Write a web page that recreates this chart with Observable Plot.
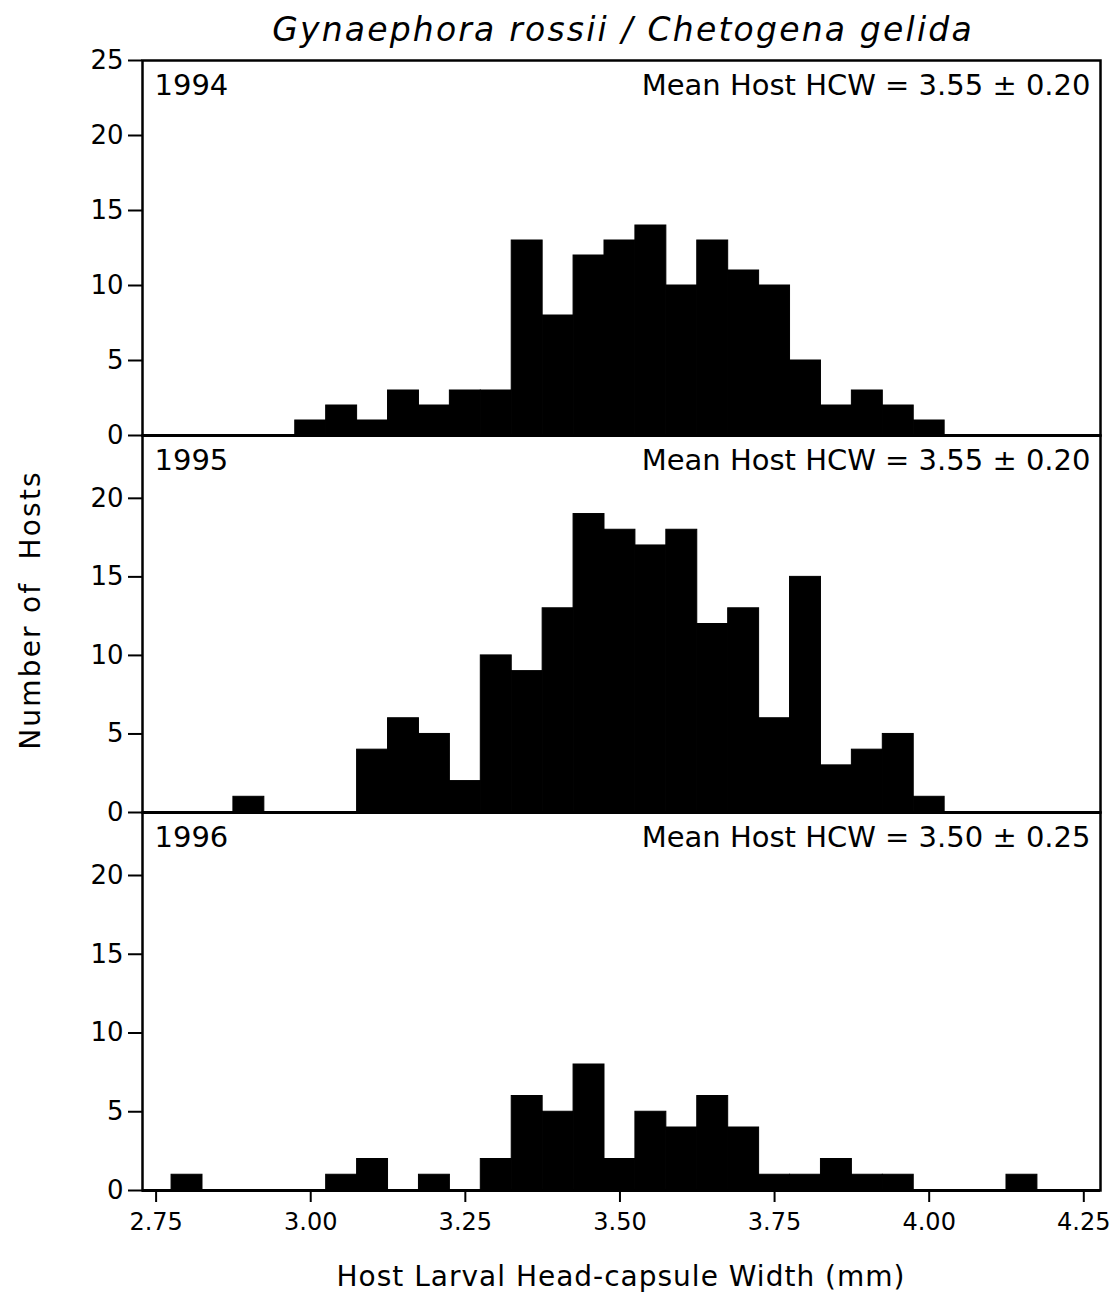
<!DOCTYPE html>
<html>
<head>
<meta charset="utf-8">
<script src="https://cdn.jsdelivr.net/npm/d3@7"></script>
<script src="https://cdn.jsdelivr.net/npm/@observablehq/plot@0.6"></script>
<style>
  html, body { margin: 0; padding: 0; background: #fff; }
  #chart { position: relative; width: 1112px; height: 1306px; background: #fff; font-family: "DejaVu Sans", sans-serif; color: #000; }
  .abs { position: absolute; }
  #title { left: 0; width: 1246px; top: 10px; text-align: center; font-size: 33px; letter-spacing: 2.2px; font-style: italic; white-space: nowrap; }
  #xlabel { left: 142px; width: 958px; top: 1260px; text-align: center; font-size: 28px; letter-spacing: 1px; white-space: nowrap; }
  #ylabel { left: 30px; top: 610px; transform: translate(-50%, -50%) rotate(-90deg); font-size: 28px; letter-spacing: 2.2px; white-space: pre; }
  #chart svg text { }
</style>
</head>
<body>
<div id="chart">
  <div id="title" class="abs">Gynaephora rossii / Chetogena gelida</div>
  <div id="p1" class="abs" style="left:0;top:40px"></div>
  <div id="p2" class="abs" style="left:0;top:415px"></div>
  <div id="p3" class="abs" style="left:0;top:792px"></div>
  <div id="ylabel" class="abs">Number of  Hosts</div>
  <div id="xlabel" class="abs">Host Larval Head-capsule Width (mm)</div>
</div>
<script>
// Bin centres (mm) and counts, bin width 0.05 mm
const binWidth = 0.05;

const centers1994 = [3.00, 3.05, 3.10, 3.15, 3.20, 3.25, 3.30, 3.35, 3.40, 3.45, 3.50, 3.55, 3.60, 3.65, 3.70, 3.75, 3.80, 3.85, 3.90, 3.95, 4.00];
const counts1994  = [1,    2,    1,    3,    2,    3,    3,    13,   8,    12,   13,   14,   10,   13,   11,   10,   5,    2,    3,    2,    1];

const centers1995 = [2.90, 3.10, 3.15, 3.20, 3.25, 3.30, 3.35, 3.40, 3.45, 3.50, 3.55, 3.60, 3.65, 3.70, 3.75, 3.80, 3.85, 3.90, 3.95, 4.00];
const counts1995  = [1,    4,    6,    5,    2,    10,   9,    13,   19,   18,   17,   18,   12,   13,   6,    15,   3,    4,    5,    1];

const centers1996 = [2.80, 3.05, 3.10, 3.20, 3.30, 3.35, 3.40, 3.45, 3.50, 3.55, 3.60, 3.65, 3.70, 3.75, 3.80, 3.85, 3.90, 3.95, 4.15];
const counts1996  = [1,    1,    2,    1,    2,    6,    5,    8,    2,    5,    4,    6,    4,    1,    1,    2,    1,    1,    1];

const years = ["1994", "1995", "1996"];
const meanLabels = ["Mean Host HCW = 3.55 ± 0.20", "Mean Host HCW = 3.55 ± 0.20", "Mean Host HCW = 3.50 ± 0.25"];
const yMax = [25, 24, 24];
const yTicks = [[0, 5, 10, 15, 20, 25], [0, 5, 10, 15, 20], [0, 5, 10, 15, 20]];
const xTicks = [2.75, 3.00, 3.25, 3.50, 3.75, 4.00, 4.25];
const xDomain = [2.728, 4.277];

const series = [
  [centers1994, counts1994],
  [centers1995, counts1995],
  [centers1996, counts1996]
];
const innerHeights = [375, 377, 378];

const font = "DejaVu Sans, sans-serif";

series.forEach(([centers, counts], i) => {
  const data = centers.map((c, j) => ({x1: c - binWidth / 2, x2: c + binWidth / 2, y: counts[j]}));
  const last = i === 2;
  const marks = [
    Plot.rectY(data, {x1: "x1", x2: "x2", y: "y", fill: "black", stroke: "black", strokeWidth: 1, inset: 0}),
    Plot.ruleY([0], {stroke: "black", strokeWidth: 3}),
    Plot.frame({stroke: "black", strokeWidth: 2.5}),
    Plot.axisY({ticks: yTicks[i], tickSize: 14, tickPadding: 5, fontSize: 26, strokeWidth: 2, label: null}),
    Plot.text([years[i]], {frameAnchor: "top-left", dx: 12, dy: 14, fontSize: 29, lineAnchor: "top", textAnchor: "start"}),
    Plot.text([meanLabels[i]], {frameAnchor: "top-right", dx: -10, dy: 14, fontSize: 29, lineAnchor: "top", textAnchor: "end"})
  ];
  if (last) {
    marks.push(Plot.axisX({ticks: xTicks, tickFormat: d3.format(".2f"), tickSize: 12, tickPadding: 10, fontSize: 24, strokeWidth: 2, label: null}));
  } else {
    marks.push(Plot.axisX({ticks: [], label: null}));
  }
  const chart = Plot.plot({
    width: 1112,
    height: 20 + innerHeights[i] + (last ? 60 : 0),
    marginTop: 20,
    marginBottom: last ? 60 : 0,
    marginLeft: 142,
    marginRight: 12,
    style: {fontFamily: font, fontSize: "25px", background: "transparent", overflow: "visible", color: "black"},
    x: {domain: xDomain},
    y: {domain: [0, yMax[i]]},
    marks
  });
  // enlarge tick labels (axis groups carrying tick text)
  chart.querySelectorAll('g[aria-label="y-axis tick label"]').forEach(g => g.setAttribute("font-size", "26"));
  chart.querySelectorAll('g[aria-label="x-axis tick label"]').forEach(g => g.setAttribute("font-size", "24"));
  document.getElementById("p" + (i + 1)).appendChild(chart);
});
</script>
</body>
</html>
